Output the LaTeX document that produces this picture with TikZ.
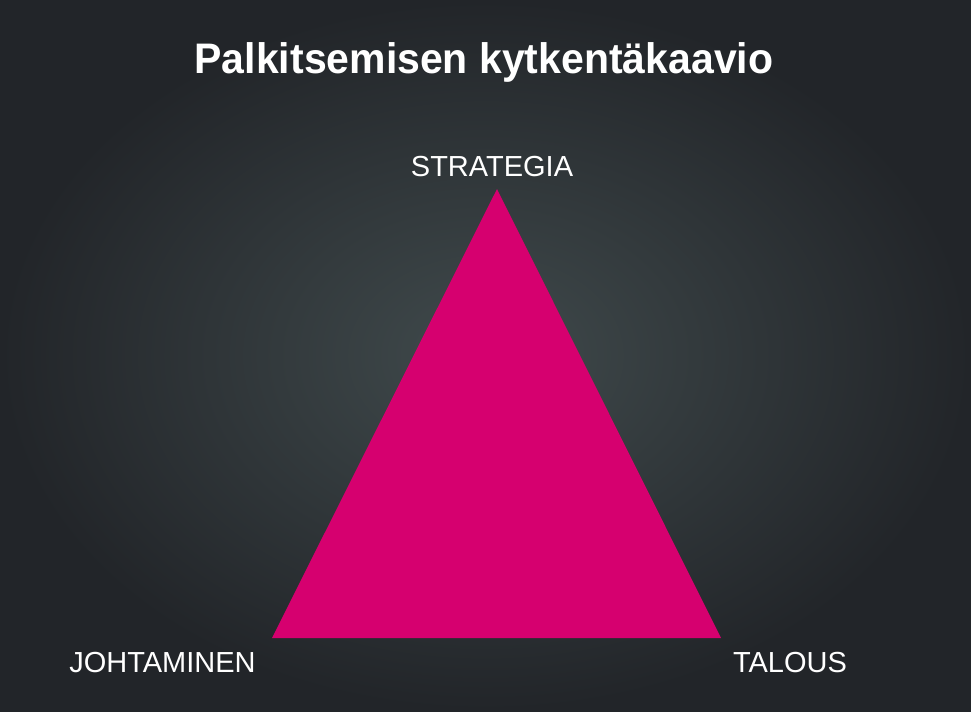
\documentclass[tikz,border=0pt]{standalone}
\usepackage{fontspec}
\setmainfont{Liberation Sans}
\usepackage{tikz}

\definecolor{bginner}{RGB}{64,74,76}
\definecolor{bgouter}{RGB}{34,37,41}
\definecolor{trimagenta}{RGB}{214,0,111}

\tikzset{
	corner/.style={text=white, anchor=base, inner sep=0pt, font=\fontsize{16.5}{19}\selectfont},
	heading/.style={text=white, anchor=base, inner sep=0pt, font=\fontsize{24.3}{28}\selectfont\bfseries}
}

\begin{document}
\begin{tikzpicture}[x=0.02cm,y=-0.02cm]
			\shade[inner color=bginner, outer color=bgouter] (0,0) rectangle (971,711);
			\node[heading, xscale=0.96] (title) at (484,73) {Palkitsemisen kytkentäkaavio};
			% triangle corners
			\coordinate (top) at (497,189);
			\coordinate (left) at (272,638);
			\coordinate (right) at (721,638);
			\fill[trimagenta] (top) -- (left) -- (right) -- cycle;
			% labels
			\node[corner] (strategia) at (492,176) {STRATEGIA};
			\node[corner] (johtaminen) at (162.5,672) {JOHTAMINEN};
			\node[corner] (talous) at (790,672) {TALOUS};
		\end{tikzpicture}
\end{document}
